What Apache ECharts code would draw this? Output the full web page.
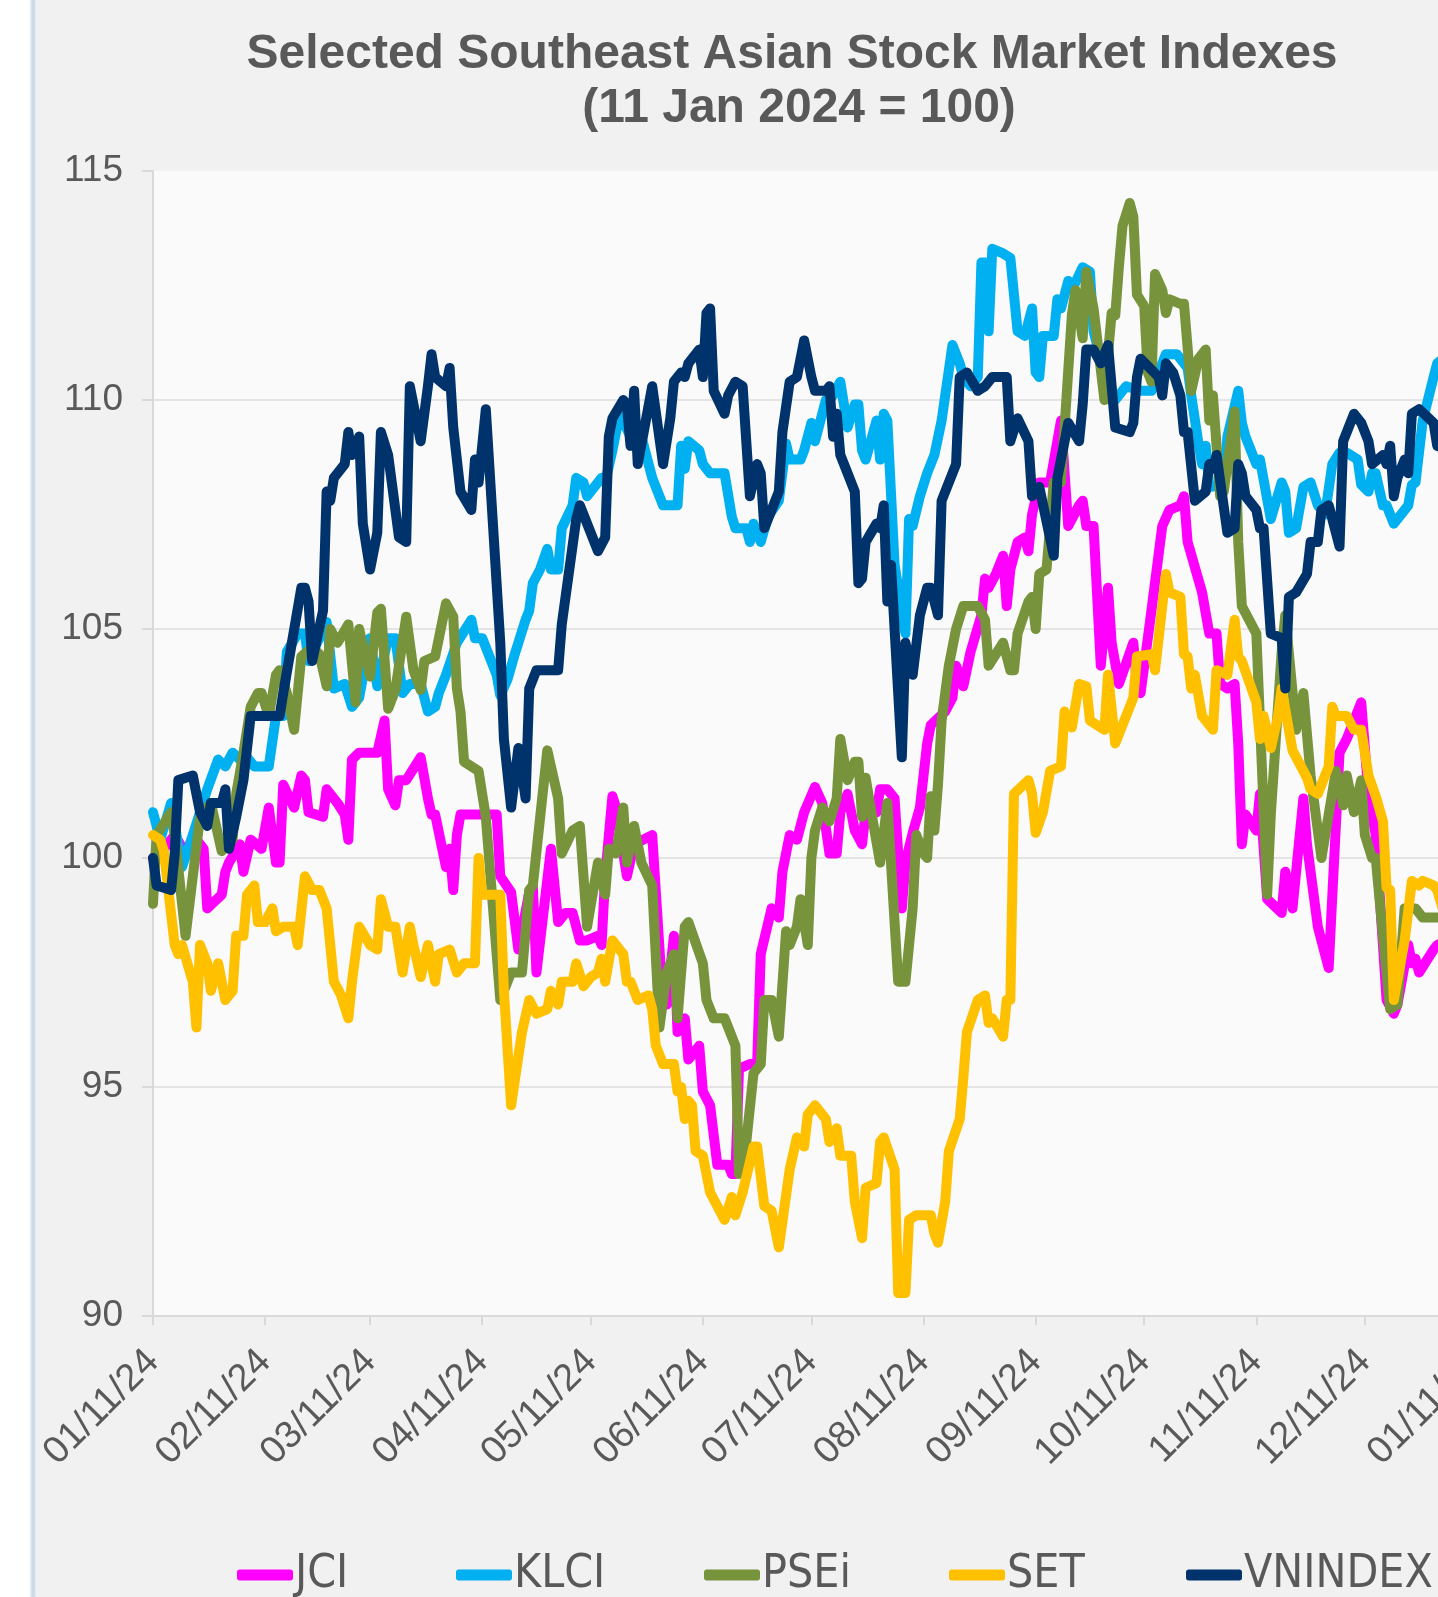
<!DOCTYPE html>
<html><head><meta charset="utf-8">
<script src="https://cdn.jsdelivr.net/npm/echarts@6/dist/echarts.min.js"></script>
<style>html,body{margin:0;padding:0;background:#fff;}#c{width:1438px;height:1597px;}</style>
</head><body><div id="c"></div>
<script>
// x values are days after 11 Jan 2024
const tickDays = [0,31,60,91,121,152,182,213,244,274,305,335,366];
const tickLabels = ['01/11/24','02/11/24','03/11/24','04/11/24','05/11/24','06/11/24','07/11/24','08/11/24','09/11/24','10/11/24','11/11/24','12/11/24','01/11/25'];
const seriesNames = ['JCI','KLCI','PSEi','SET','VNINDEX'];

const JCI = [[0,100.0],[3,100.2],[6,100.5],[9,100.1],[12,100.4],[14,100.2],[15,98.9],[19,99.2],[20,99.7],[21,99.9],[24,100.3],[25,99.7],[27,100.4],[30,100.2],[32,101.1],[34,99.9],[35,99.9],[36,101.6],[39,101.1],[41,101.8],[42,101.7],[43,101.0],[47,100.9],[48,101.5],[51,101.2],[53,100.95],[54,100.4],[55,102.15],[57,102.3],[62,102.3],[64,103.0],[65,101.5],[67,101.15],[68,101.7],[70,101.7],[74,102.2],[76,101.3],[77,100.95],[78,100.95],[81,99.8],[82,100.2],[83,99.3],[84,100.5],[85,100.95],[95,100.95],[96,99.6],[99,99.25],[101,98.0],[104,99.25],[105,99.4],[106,97.5],[110,100.2],[112,98.6],[114,98.8],[116,98.8],[118,98.2],[120,98.2],[123,98.3],[124,98.1],[125,99.6],[127,101.35],[128,101.1],[131,99.6],[133,100.3],[138,100.5],[141,96.8],[142,96.8],[144,98.3],[145,96.2],[147,96.5],[148,95.6],[151,95.9],[152,94.9],[154,94.6],[156,93.3],[159,93.3],[160,93.1],[161,93.1],[162,95.4],[165,95.5],[167,95.5],[168,97.9],[171,98.9],[173,98.7],[174,99.7],[176,100.5],[178,100.4],[180,101.0],[183,101.55],[185,101.2],[187,100.1],[189,100.1],[190,101.0],[192,101.4],[194,100.6],[196,100.3],[197,101.0],[200,101.0],[201,101.5],[203,101.5],[205,101.3],[207,98.9],[208,99.9],[210,100.55],[212,101.1],[214,102.5],[215,102.9],[219,103.2],[221,103.5],[222,104.2],[224,103.75],[226,104.5],[229,105.3],[230,106.1],[231,105.9],[233,106.2],[235,106.6],[236,105.5],[237,106.3],[239,106.9],[241,107.0],[242,106.7],[243,107.5],[245,108.2],[248,108.2],[251,109.55],[253,107.25],[256,107.7],[257,107.8],[258,107.25],[260,107.25],[262,104.2],[264,105.9],[265,104.7],[267,103.8],[271,104.7],[272,103.8],[273,103.6],[276,105.4],[279,107.25],[281,107.6],[284,107.7],[285,107.9],[286,106.9],[290,105.8],[292,104.9],[294,104.9],[295,103.8],[297,103.7],[299,103.8],[300,102.5],[301,100.3],[302,100.95],[305,100.6],[306,101.4],[308,99.1],[312,98.8],[313,99.7],[315,98.9],[318,101.3],[319,100.3],[322,98.5],[325,97.6],[328,102.3],[330,102.6],[332,103.0],[334,103.4],[336,101.4],[338,100.5],[341,96.9],[343,96.6],[344,96.8],[347,98.1],[348,97.7],[349,97.8],[350,97.5],[354,98.0],[355,98.1],[358,98.2]];

const KLCI = [[0,101.0],[2,100.4],[5,101.2],[8,99.8],[11,100.5],[15,101.5],[18,102.15],[20,102.0],[22,102.3],[24,102.15],[26,102.2],[28,102.0],[32,102.0],[34,103.1],[36,103.1],[37,104.5],[40,104.9],[42,104.9],[43,104.3],[48,105.15],[50,103.7],[53,103.8],[55,103.3],[57,103.5],[60,104.8],[62,103.75],[65,104.8],[67,104.8],[69,103.6],[71,103.8],[74,103.8],[76,103.2],[78,103.3],[79,103.6],[81,104.0],[84,104.7],[88,105.2],[89,104.8],[91,104.8],[95,104.0],[96,103.55],[98,103.9],[100,104.45],[103,105.2],[104,105.4],[105,106.0],[107,106.3],[109,106.75],[110,106.3],[112,106.3],[113,107.2],[116,107.7],[117,108.3],[119,108.2],[120,107.9],[122,108.1],[124,108.3],[125,108.2],[127,108.9],[129,109.7],[132,109.2],[135,109.2],[138,108.3],[141,107.7],[145,107.7],[146,109.0],[147,108.5],[148,109.1],[151,108.9],[152,108.6],[154,108.4],[158,108.4],[160,107.45],[161,107.2],[164,107.2],[165,106.9],[166,107.3],[168,106.9],[170,107.45],[173,107.8],[175,109.05],[176,108.7],[179,108.7],[180,108.9],[182,109.5],[183,109.1],[186,110.0],[188,110.1],[190,110.4],[192,109.4],[194,109.9],[195,109.9],[196,108.9],[197,108.7],[200,109.55],[201,108.7],[202,109.7],[203,109.55],[205,106.4],[208,104.9],[209,107.4],[210,107.25],[212,107.9],[214,108.4],[216,108.8],[218,109.55],[221,111.2],[223,110.8],[224,110.5],[226,110.3],[228,110.5],[229,113.0],[230,113.0],[231,111.5],[232,113.3],[235,113.2],[237,113.1],[239,111.5],[241,111.4],[243,112.0],[244,110.6],[245,110.5],[246,111.4],[249,111.4],[250,112.2],[251,112.0],[253,112.6],[254,112.4],[257,112.9],[259,112.8],[260,111.5],[262,110.9],[266,110.0],[269,110.3],[273,110.2],[276,110.2],[280,111.0],[283,111.0],[286,110.7],[287,110.1],[289,109.05],[290,108.6],[291,109.0],[292,108.1],[296,108.15],[297,109.2],[300,110.2],[301,109.5],[302,109.2],[305,108.6],[306,108.7],[309,107.4],[312,108.2],[313,108.0],[314,107.1],[316,107.2],[318,108.1],[320,108.2],[322,107.7],[324,107.5],[326,108.6],[328,108.85],[330,108.85],[333,108.7],[334,108.15],[336,108.0],[337,108.4],[338,108.4],[340,107.7],[341,107.7],[343,107.3],[347,107.7],[348,108.15],[349,108.2],[351,109.55],[354,110.5],[355,110.8],[358,111.0]];

const PSEi = [[0,99.0],[1,100.5],[5,101.0],[6,100.5],[9,98.3],[13,100.9],[16,101.2],[19,100.15],[22,100.4],[23,101.4],[25,102.3],[27,103.3],[29,103.6],[30,103.6],[32,103.1],[34,104.0],[35,104.1],[37,103.6],[39,102.8],[41,104.4],[44,104.6],[46,104.45],[48,103.75],[49,105.0],[51,104.7],[54,105.1],[56,103.4],[57,105.0],[60,103.96],[62,105.36],[63,105.44],[65,103.26],[67,103.67],[70,105.27],[72,104.1],[74,103.67],[75,104.3],[78,104.4],[81,105.56],[83,105.27],[84,103.7],[85,103.2],[86,102.1],[90,101.9],[92,100.9],[96,96.9],[99,97.5],[102,97.5],[104,99.3],[105,99.4],[109,102.35],[112,101.3],[113,100.1],[116,100.6],[118,100.7],[120,98.5],[123,99.9],[125,99.2],[126,100.2],[128,100.1],[130,101.1],[131,99.9],[133,100.7],[135,99.9],[138,99.4],[140,96.3],[142,97.5],[144,97.9],[145,96.5],[147,98.5],[148,98.6],[152,97.7],[153,96.9],[155,96.5],[158,96.5],[159,96.3],[161,95.9],[162,93.1],[164,93.8],[166,95.3],[168,95.5],[169,96.9],[171,96.9],[173,96.1],[175,98.4],[176,98.1],[178,98.5],[179,99.1],[181,98.1],[182,100.0],[183,100.6],[185,101.1],[187,100.8],[189,101.3],[190,102.6],[192,101.7],[194,102.1],[195,102.1],[196,100.9],[197,101.75],[199,100.8],[201,99.9],[203,101.2],[206,97.3],[208,97.3],[210,98.9],[211,100.5],[213,100.1],[214,100.0],[215,101.35],[216,100.6],[217,101.6],[218,103.0],[219,103.6],[220,104.2],[222,105.0],[224,105.5],[228,105.5],[230,105.2],[231,104.2],[235,104.7],[237,104.1],[238,104.1],[239,104.9],[242,105.6],[243,105.7],[244,105.0],[245,106.2],[247,106.3],[249,108.2],[251,108.2],[254,111.85],[255,112.4],[257,111.35],[258,112.8],[260,112.0],[263,110.0],[264,111.0],[265,111.9],[266,111.85],[267,112.9],[268,113.8],[270,114.3],[271,114.0],[272,112.3],[274,112.05],[275,110.6],[276,110.4],[277,112.75],[279,112.4],[280,111.9],[281,112.2],[284,112.1],[285,112.1],[287,110.2],[289,110.9],[291,111.1],[292,109.55],[293,110.1],[295,107.9],[296,108.0],[299,109.75],[300,106.9],[301,105.5],[305,104.9],[308,99.2],[309,100.95],[312,104.5],[313,105.3],[316,102.8],[318,103.6],[320,101.8],[323,100.0],[327,101.9],[329,101.15],[330,101.8],[332,101.0],[334,101.7],[335,100.5],[337,100.0],[338,100.0],[340,98.3],[342,96.7],[344,96.8],[346,98.9],[349,98.9],[351,98.7],[355,98.7],[358,98.7]];

const SET = [[0,100.5],[2,100.4],[3,100.15],[6,98.1],[7,97.9],[8,98.1],[11,97.3],[12,96.3],[13,98.1],[15,97.7],[16,97.1],[18,97.7],[20,96.9],[22,97.1],[23,98.3],[25,98.3],[26,99.2],[28,99.4],[29,98.6],[31,98.6],[33,98.9],[34,98.4],[36,98.5],[39,98.5],[40,98.1],[42,99.6],[44,99.3],[46,99.3],[48,98.9],[50,97.3],[52,97.0],[54,96.5],[55,97.3],[57,98.5],[60,98.1],[62,98.0],[63,99.1],[65,98.5],[67,98.5],[69,97.5],[71,98.5],[72,98.1],[74,97.4],[76,98.1],[78,97.3],[79,97.9],[82,98.0],[84,97.5],[86,97.7],[89,97.7],[90,100.0],[91,99.2],[96,99.2],[97,97.1],[99,94.6],[102,96.2],[104,96.9],[106,96.6],[109,96.7],[110,97.1],[112,96.8],[113,97.3],[116,97.3],[117,97.7],[119,97.2],[121,97.4],[123,97.5],[124,97.8],[125,97.3],[127,98.2],[129,98.0],[130,97.9],[131,97.3],[132,97.3],[134,96.9],[137,97.0],[138,96.7],[139,95.9],[141,95.5],[144,95.5],[145,94.9],[146,95.0],[147,94.3],[148,94.7],[149,94.6],[150,93.6],[152,93.5],[154,92.7],[158,92.1],[160,92.6],[161,92.2],[163,92.7],[166,93.7],[167,93.7],[169,92.4],[171,92.3],[173,91.5],[176,93.2],[178,93.9],[180,93.7],[181,94.4],[183,94.6],[186,94.3],[187,93.8],[189,94.1],[190,93.5],[193,93.5],[194,92.5],[196,91.7],[197,92.8],[200,92.9],[201,93.8],[202,93.9],[205,93.2],[206,90.5],[208,90.5],[209,92.1],[211,92.2],[215,92.2],[216,91.8],[217,91.6],[219,92.5],[220,93.6],[223,94.3],[224,95.2],[225,96.2],[228,96.9],[230,97.0],[231,96.4],[232,96.5],[235,96.1],[236,96.9],[237,96.9],[238,101.4],[242,101.7],[243,101.4],[244,100.55],[246,101.0],[248,101.9],[251,102.0],[252,103.2],[254,102.85],[256,103.8],[258,103.75],[259,103.0],[263,102.8],[264,104.0],[266,102.5],[269,103.1],[271,103.5],[272,104.4],[276,104.45],[277,104.1],[280,106.2],[281,105.8],[284,105.7],[285,104.45],[286,104.4],[287,103.7],[288,104.0],[290,103.1],[293,102.8],[294,104.1],[297,104.0],[299,105.2],[300,104.4],[301,104.3],[305,103.4],[306,102.6],[307,103.1],[309,102.4],[311,103.1],[312,103.7],[315,102.35],[319,101.75],[320,101.5],[322,101.4],[325,102.0],[326,103.3],[327,103.1],[330,103.1],[332,102.8],[334,102.8],[335,102.3],[336,101.8],[338,101.35],[340,100.8],[341,99.35],[342,99.3],[343,96.9],[346,98.2],[348,99.5],[350,99.4],[351,99.5],[354,99.4],[355,99.3],[358,98.5]];

const VNINDEX = [[0,100.0],[1,99.4],[5,99.3],[6,100.1],[7,101.7],[11,101.8],[13,101.0],[15,100.7],[16,101.2],[19,101.2],[20,101.5],[21,100.2],[23,100.9],[25,101.7],[27,103.1],[35,103.1],[36,103.6],[41,105.9],[42,105.9],[43,105.6],[44,104.3],[47,105.4],[48,108.0],[49,107.8],[50,108.3],[53,108.6],[54,109.3],[55,108.8],[57,109.2],[58,107.3],[60,106.3],[62,107.1],[63,109.3],[65,108.8],[68,107.0],[70,106.9],[71,110.3],[74,109.1],[76,110.3],[77,111.0],[78,110.5],[81,110.3],[82,110.7],[83,109.4],[85,108.0],[88,107.6],[89,108.7],[90,108.2],[92,109.8],[96,104.7],[97,102.6],[99,101.1],[101,102.4],[103,101.3],[104,103.7],[106,104.1],[112,104.1],[113,105.1],[117,107.4],[118,107.7],[120,107.3],[123,106.7],[125,107.0],[126,109.2],[127,109.6],[130,110.0],[131,109.9],[132,109.0],[133,110.2],[134,108.6],[138,110.3],[141,108.6],[143,109.6],[144,110.4],[146,110.6],[147,110.5],[148,110.8],[151,111.1],[152,110.5],[153,111.9],[154,112.0],[155,110.2],[158,109.7],[159,110.1],[161,110.4],[163,110.3],[165,107.9],[167,108.6],[168,108.4],[169,107.2],[173,108.0],[174,109.3],[176,110.4],[178,110.5],[180,111.3],[182,110.5],[183,110.2],[186,110.2],[187,110.3],[188,109.2],[189,109.7],[190,108.8],[194,108.0],[195,106.0],[196,106.1],[197,106.9],[200,107.3],[201,107.2],[202,107.7],[203,105.6],[204,106.4],[207,102.2],[208,104.7],[210,104.0],[212,105.3],[214,105.9],[215,105.9],[217,105.3],[218,107.8],[222,108.6],[223,110.5],[225,110.6],[228,110.2],[230,110.3],[232,110.5],[236,110.5],[237,109.1],[239,109.6],[242,109.1],[243,107.9],[245,108.1],[249,106.6],[250,108.3],[253,109.5],[256,109.1],[257,109.9],[258,111.1],[260,111.1],[262,110.8],[264,111.2],[266,109.4],[270,109.3],[271,109.5],[272,110.5],[273,110.9],[278,110.5],[279,110.1],[280,110.8],[282,110.6],[284,110.1],[285,109.3],[286,109.3],[288,107.8],[291,108.0],[292,108.6],[293,108.5],[294,108.8],[297,107.1],[299,107.2],[300,108.6],[301,108.4],[302,107.9],[305,107.6],[306,107.2],[307,107.2],[309,104.9],[312,104.8],[313,103.7],[314,105.7],[316,105.8],[319,106.2],[320,106.9],[322,106.9],[323,107.6],[325,107.7],[328,106.8],[329,109.1],[330,109.3],[332,109.7],[334,109.5],[336,109.1],[337,108.6],[340,108.8],[341,108.6],[342,109.0],[343,107.9],[344,108.3],[346,108.7],[347,108.4],[348,109.7],[350,109.8],[354,109.5],[355,109.0],[358,108.9]];

const seriesData = [JCI, KLCI, PSEi, SET, VNINDEX];
const seriesColors = ['#FF00FF','#00B0F0','#77933C','#FFC000','#00336B'];
const legendLeft = [232, 451, 699, 944, 1181];

const chart = echarts.init(document.getElementById('c'), null, {renderer:'canvas'});
const txt = '#595959';
const legendFont = '"Liberation Sans Narrow", "DejaVu Sans Condensed", "Liberation Sans", Arial, sans-serif';
chart.setOption({
  animation: false,
  backgroundColor: '#F1F1F1',
  graphic: [
    {type:'rect', shape:{x:0,y:0,width:30,height:1597}, style:{fill:'#FFFFFF'}, silent:true},
    {type:'rect', shape:{x:30,y:0,width:6,height:1597}, silent:true,
      style:{fill:new echarts.graphic.LinearGradient(0,0,1,0,[{offset:0,color:'#EAF1F5'},{offset:0.5,color:'#C3D7E2'},{offset:1,color:'#E6ECEF'}])}},
    {type:'text', x:792, y:55, style:{text:'Selected Southeast Asian Stock Market Indexes', font:'bold 48px "Liberation Sans", Arial, sans-serif', fill:txt, align:'center', verticalAlign:'middle'}},
    {type:'text', x:799, y:109, style:{text:'(11 Jan 2024 = 100)', font:'bold 48px "Liberation Sans", Arial, sans-serif', fill:txt, align:'center', verticalAlign:'middle'}}
  ],
  grid: {left:153, top:171, right:-39, bottom:281, show:true, backgroundColor:'#FAFAFA', borderWidth:0, containLabel:false, outerBoundsMode:'none'},
  legend: seriesNames.map((n,i)=>({
    data:[n], left:legendLeft[i], top:1547, icon:'roundRect', itemWidth:56, itemHeight:11,
    textStyle:{color:txt, fontSize:46, fontFamily:legendFont, padding:[0,0,0,-3]}
  })),
  xAxis: {
    type:'value', min:0, max:366,
    axisLine:{show:true, lineStyle:{color:'#D9D9D9', width:2}},
    axisTick:{show:true, length:9, lineStyle:{color:'#D9D9D9', width:2}, customValues:tickDays},
    splitLine:{show:false},
    axisLabel:{customValues:tickDays, rotate:45, margin:40, color:txt, fontSize:38, fontFamily:'"Liberation Sans", Arial, sans-serif',
      formatter:function(v){const i=tickDays.indexOf(v);return i>=0?tickLabels[i]:'';}}
  },
  yAxis: {
    type:'value', min:90, max:115, interval:5,
    axisLine:{show:true, lineStyle:{color:'#D9D9D9', width:2}},
    axisTick:{show:true, length:11, lineStyle:{color:'#D9D9D9', width:2}},
    splitLine:{show:true, showMaxLine:false, lineStyle:{color:'#DDDDDD', width:1.5}},
    axisLabel:{margin:30, color:txt, fontSize:37, fontFamily:'"Liberation Sans", Arial, sans-serif'}
  },
  series: seriesNames.map((n,i)=>({
    name:n, type:'line', data:seriesData[i], showSymbol:false, symbol:'none',
    itemStyle:{color:seriesColors[i]},
    lineStyle:{width:10, color:seriesColors[i], cap:'round', join:'round'},
    emphasis:{disabled:true}
  }))
});
</script>
</body></html>
